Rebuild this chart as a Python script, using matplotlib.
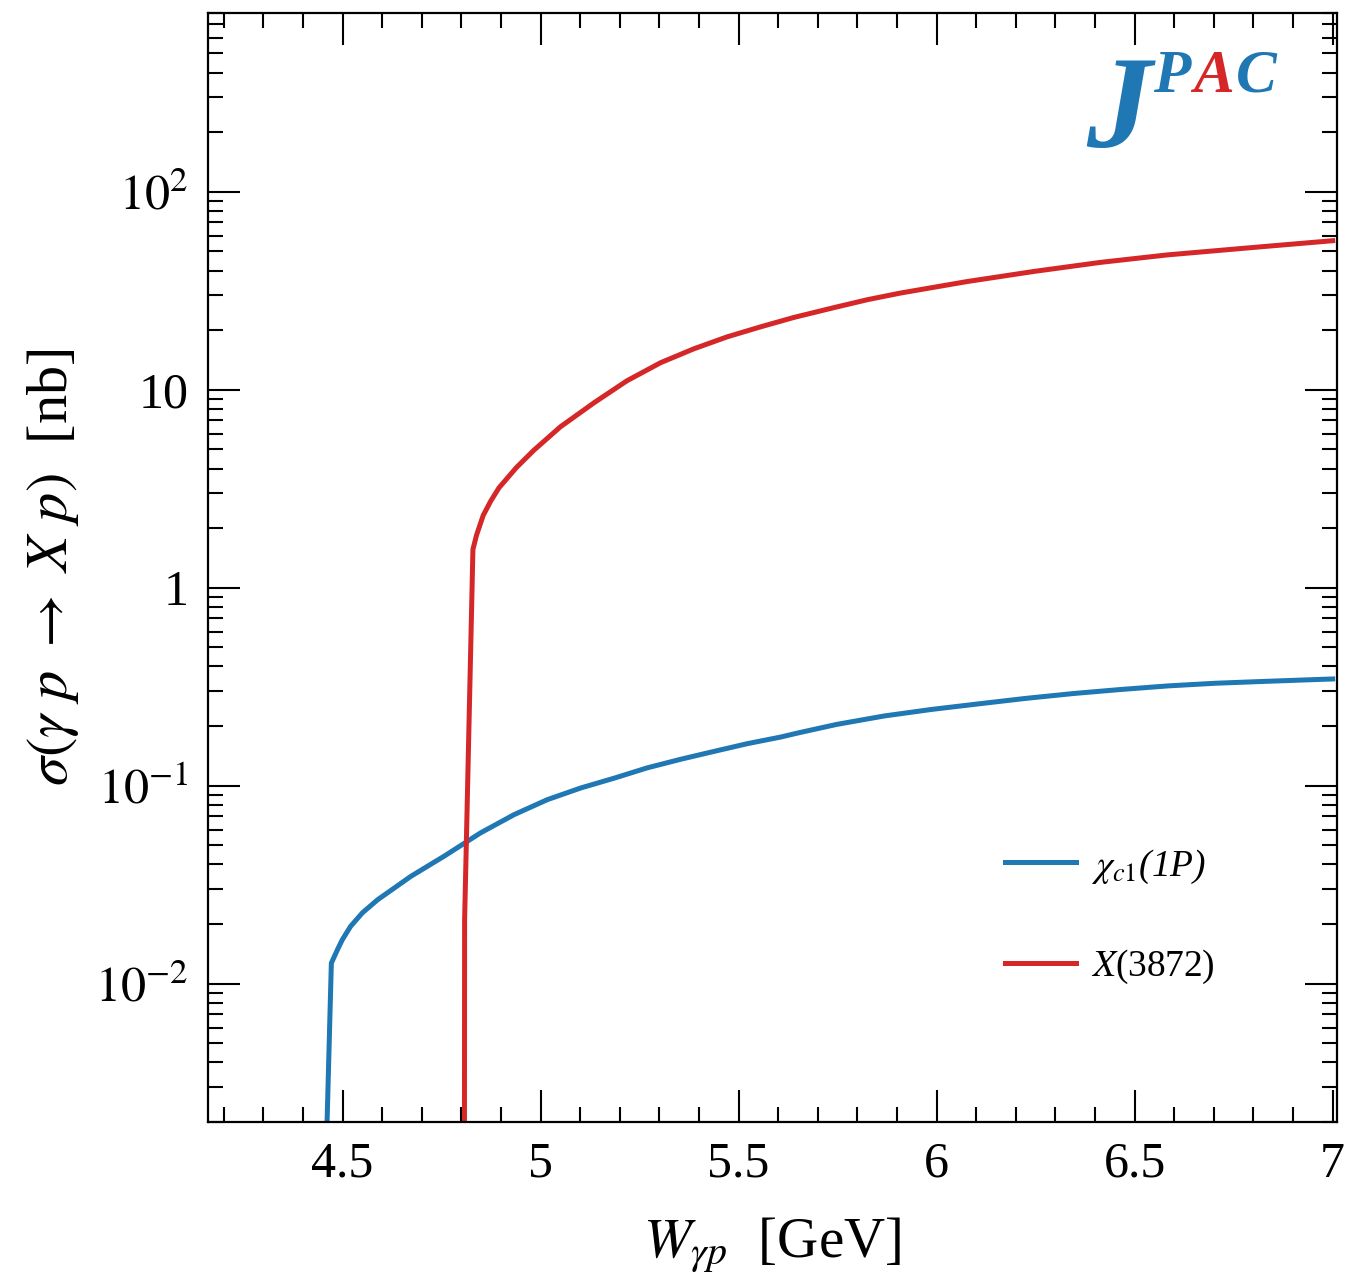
import matplotlib
matplotlib.use('Agg')
import matplotlib.pyplot as plt
from matplotlib.ticker import LogLocator, MultipleLocator, NullFormatter

plt.rcParams['font.family'] = 'serif'
plt.rcParams['font.serif'] = ['Liberation Serif', 'DejaVu Serif']
plt.rcParams['mathtext.fontset'] = 'stix'

# chi_c1(1P) cross section [nb] vs W [GeV]
w_chi = [4.459, 4.4715, 4.487, 4.4992, 4.520, 4.550, 4.588, 4.672, 4.756, 4.848,
         4.933, 5.017, 5.101, 5.185, 5.269, 5.354, 5.438, 5.522, 5.606, 5.657,
         5.748, 5.868, 5.987, 6.106, 6.225, 6.345, 6.464, 6.583, 6.702, 6.822, 7.0]
sig_chi = [0.0015, 0.0127, 0.01486, 0.01667, 0.01946, 0.0228, 0.0265, 0.0348, 0.0440, 0.0577,
           0.0714, 0.0850, 0.0973, 0.109, 0.123, 0.136, 0.149, 0.163, 0.176, 0.186,
           0.204, 0.225, 0.2427, 0.259, 0.276, 0.292, 0.306, 0.319, 0.329, 0.336, 0.346]

# X(3872) cross section [nb] vs W [GeV]
w_x = [4.8075, 4.808, 4.829, 4.838, 4.855, 4.874, 4.895, 4.939, 4.983, 5.050,
       5.135, 5.218, 5.303, 5.387, 5.471, 5.556, 5.640, 5.741, 5.825, 5.909, 6.077,
       6.246, 6.414, 6.583, 6.822, 7.0]
sig_x = [0.001, 0.021, 1.56, 1.84, 2.32, 2.74, 3.2, 4.05, 4.95, 6.5,
         8.6, 11.1, 13.7, 16.1, 18.5, 20.8, 23.2, 26.0, 28.5, 30.8, 35.2,
         39.6, 44.0, 48.0, 52.8, 56.6]

labels = [r'$\chi_{c1}$(1P)', r'$X$(3872)']
colors = ['#1f77b4', '#d62728']

xticks = [4.5, 5, 5.5, 6, 6.5, 7]
xtick_labels = ['4.5', '5', '5.5', '6', '6.5', '7']
yticks = [1e-2, 1e-1, 1, 10, 100]
ytick_labels = [r'$10^{-2}$', r'$10^{-1}$', '1', '10', r'$10^{2}$']

W, H = 1359, 1274
fig = plt.figure(figsize=(W / 100, H / 100), dpi=100)
ax = fig.add_axes([208 / W, 1 - 1122 / H, (1337 - 208) / W, (1122 - 13) / H])

ax.plot(w_chi, sig_chi, color=colors[0], lw=3.6, label=labels[0])
ax.plot(w_x, sig_x, color=colors[1], lw=3.6, label=labels[1])

ax.set_yscale('log')
ax.set_xlim(4.16, 7.011)
ax.set_ylim(0.002, 800)

ax.set_xticks(xticks, labels=xtick_labels)
ax.xaxis.set_minor_locator(MultipleLocator(0.1))
ax.set_yticks(yticks, labels=ytick_labels)
ax.yaxis.set_minor_locator(LogLocator(base=10, subs=range(2, 10), numticks=20))
ax.yaxis.set_minor_formatter(NullFormatter())

ax.tick_params(which='both', direction='in', top=True, right=True, width=1.5, labelsize=36, pad=14)
ax.tick_params(which='major', length=23)
ax.tick_params(which='minor', length=11)
for sp in ax.spines.values():
    sp.set_linewidth(1.6)

ax.set_xlabel(r'$W_{\gamma p}$  [GeV]', fontsize=41, labelpad=20)
ax.set_ylabel(r'$\sigma(\gamma\ p\ \rightarrow\ X\ p)$  [nb]', fontsize=42, labelpad=10)

leg = ax.legend(loc='center left', bbox_to_anchor=(0.706, 0.185), frameon=False, fontsize=27,
                handlelength=1.9, handletextpad=0.4, labelspacing=1.67, borderpad=0, borderaxespad=0)
leg.get_texts()[0].set_fontstyle('italic')

# JPAC logo
fig.text(1086 / W, 1 - 147 / H, 'J', color=colors[0], fontsize=94, fontweight='bold',
         fontstyle='italic', va='baseline', ha='left')
fig.text(1153 / W, 1 - 92 / H, 'P', color=colors[0], fontsize=44, fontweight='bold',
         fontstyle='italic', va='baseline', ha='left')
fig.text(1193 / W, 1 - 92 / H, 'A', color=colors[1], fontsize=44, fontweight='bold',
         fontstyle='italic', va='baseline', ha='left')
fig.text(1236 / W, 1 - 92 / H, 'C', color=colors[0], fontsize=44, fontweight='bold',
         fontstyle='italic', va='baseline', ha='left')

fig.savefig('out.png', dpi=100)
